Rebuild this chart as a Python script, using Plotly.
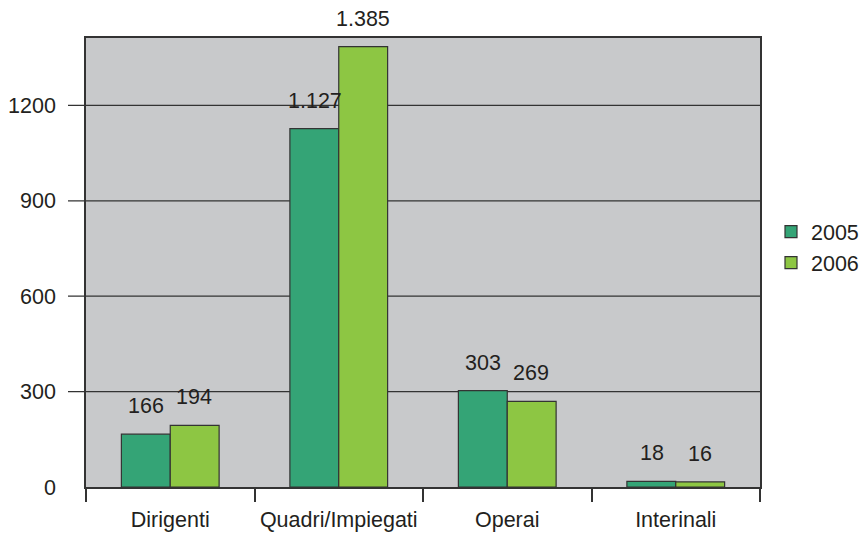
import plotly.graph_objects as go

categories = ["Dirigenti", "Quadri/Impiegati", "Operai", "Interinali"]
years = ["2005", "2006"]
values_2005 = [166, 1127, 303, 18]
values_2006 = [194, 1385, 269, 16]
grid_values = [300, 600, 900, 1200]

colors = {"2005": "#34a476", "2006": "#8dc643"}
text_color = "#231f20"
line_color = "#333333"
font_family = "Liberation Sans, Arial, Helvetica, sans-serif"
font_size = 21.5

# plot area geometry (pixels)
fig_w, fig_h = 864, 533
m_l, m_r, m_t, m_b = 86, 0, 38, 46
plot_w = 674
paper_w = fig_w - m_l - m_r


def it_format(v):
    return f"{v:,}".replace(",", ".")


fig = go.Figure()
series = {"2005": values_2005, "2006": values_2006}
for year in years:
    fig.add_trace(go.Bar(
        name=year,
        x=categories,
        y=series[year],
        marker=dict(color=colors[year], line=dict(color=line_color, width=1.2)),
        hoverinfo="x+y",
    ))

# value labels above each bar
offset = 0.1435
annotations = []
for year, sign in (("2005", -1), ("2006", 1)):
    for i, v in enumerate(series[year]):
        annotations.append(dict(
            x=i + sign * offset, y=v, xref="x", yref="y",
            text=it_format(v), showarrow=False,
            yanchor="bottom", xanchor="center", yshift=14,
            font=dict(family=font_family, size=font_size, color=text_color),
        ))

# horizontal gridlines extending left past the axis
shapes = []
for g in grid_values:
    shapes.append(dict(
        type="line", xref="paper", yref="y",
        x0=-18 / paper_w, x1=plot_w / paper_w, y0=g, y1=g,
        line=dict(color=line_color, width=1.3),
        layer="below",
    ))

fig.update_layout(
    width=fig_w, height=fig_h,
    margin=dict(l=m_l, r=m_r, t=m_t, b=m_b),
    paper_bgcolor="white",
    plot_bgcolor="#c8c9cb",
    barmode="group",
    bargap=0.42,
    bargroupgap=0,
    font=dict(family=font_family, size=font_size, color=text_color),
    showlegend=True,
    legend=dict(
        x=1.0, y=0.534, xanchor="right", yanchor="middle",
        font=dict(family=font_family, size=font_size, color=text_color),
        itemwidth=30, tracegroupgap=0,
        bgcolor="rgba(0,0,0,0)",
    ),
    annotations=annotations,
    shapes=shapes,
    xaxis=dict(
        type="category",
        domain=[0, plot_w / paper_w],
        automargin=False,
        showline=True, mirror=True, linecolor=line_color, linewidth=1.5,
        ticks="outside", tickson="boundaries", ticklen=13,
        tickcolor=line_color, tickwidth=1.5,
        ticklabelstandoff=12,
        showgrid=False, zeroline=False,
        tickfont=dict(family=font_family, size=font_size, color=text_color),
    ),
    yaxis=dict(
        range=[0, 1412],
        automargin=False,
        tickvals=[0] + grid_values,
        ticktext=["0"] + [str(g) for g in grid_values],
        showline=True, mirror=True, linecolor=line_color, linewidth=1.5,
        ticks="", showgrid=False, zeroline=False,
        ticklabelstandoff=24,
        tickfont=dict(family=font_family, size=font_size, color=text_color),
    ),
)

fig.write_html("out.html")
